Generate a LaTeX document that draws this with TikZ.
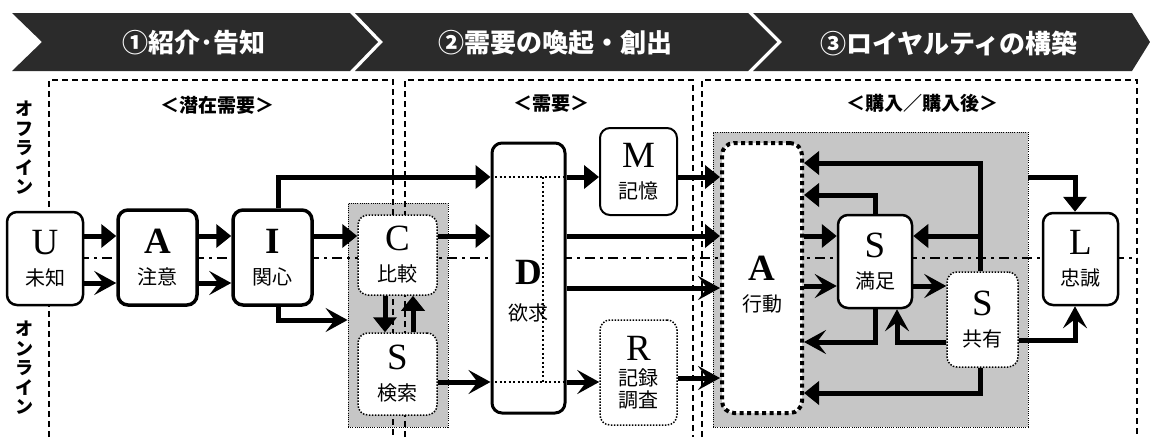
\documentclass[tikz,border=0pt]{standalone}
\usepackage{fontspec}
\setmainfont{Liberation Serif}
\newfontfamily\cjk{Noto Sans CJK JP}
\usetikzlibrary{arrows.meta}
\definecolor{bannerc}{RGB}{43,43,43}
\definecolor{grayfill}{RGB}{198,198,198}
\newcommand\BigL[1]{{\rmfamily\fontsize{37}{37}\selectfont #1}}
\newcommand\Lab[2]{\BigL{#1}\\[7pt]#2}
\begin{document}
\begin{tikzpicture}[x=1pt,y=-1pt,
  box/.style={draw, fill=white, rounded corners=10pt, align=center, inner sep=0pt,
    font=\cjk\fontsize{20}{24}\selectfont},
  solidb/.style={box, line width=3pt},
  thinb/.style={box, line width=2pt},
  dotb/.style={box, line width=1.5pt, dash pattern=on 1.5pt off 1.5pt},
  bigdotb/.style={box, line width=4pt, dash pattern=on 4pt off 3.5pt, rounded corners=12pt},
  lbl/.style={align=center, inner sep=0pt, font=\cjk\fontsize{20}{24}\selectfont},
  grayreg/.style={fill=grayfill, draw, line width=0.8pt, dash pattern=on 1pt off 1.2pt, inner sep=0pt},
  dbox/.style={line width=1.3pt, dash pattern=on 6pt off 4pt},
  dashdot/.style={line width=1.5pt, dash pattern=on 10pt off 5pt on 3pt off 5pt},
  innerdot/.style={line width=2pt, dash pattern=on 2pt off 2.5pt},
  off/.style={line width=5pt, -{Triangle[length=15pt,width=23pt]}},
  on/.style={line width=5pt, -{Stealth[length=22pt,width=24pt,inset=9pt]}},
  bantext/.style={text=white, font=\cjk\bfseries\fontsize{26}{28}\selectfont},
  sectext/.style={font=\cjk\bfseries\fontsize{19}{22}\selectfont},
  vtext/.style={align=center, font=\cjk\bfseries\fontsize{18}{19.5}\selectfont, inner sep=0pt}
]
\useasboundingbox (0,0) rectangle (1150,437);

% banner
\fill[bannerc] (12,13) -- (350,13) -- (378,42) -- (350,71) -- (12,71) -- (42,42) -- cycle;
\fill[bannerc] (355,13) -- (748,13) -- (777,42) -- (748,71) -- (355,71) -- (383,42) -- cycle;
\fill[bannerc] (753,13) -- (1132,13) -- (1150,42) -- (1132,71) -- (753,71) -- (782,42) -- cycle;
\node[bantext] (b1) at (194,43) {①紹介･告知};
\node[bantext] (b2) at (555,43) {②需要の喚起・創出};
\node[bantext] (b3) at (949,43) {③ロイヤルティの構築};

% gray regions
\node[grayreg, minimum width=100pt, minimum height=224pt] (g1) at (398,315) {};
\node[grayreg, minimum width=315pt, minimum height=295pt] (g3) at (870.5,279.5) {};

% dashed boxes
\draw[dbox] (49,437) -- (49,80) -- (393,80) -- (393,437);
\draw[dbox] (405,437) -- (405,80) -- (693,80) -- (693,437);
\draw[dbox] (702,437) -- (702,80) -- (1137,80) -- (1137,437);

% dash-dot line
\draw[dashdot] (10,258) -- (1137,258);

% section labels
\node[sectext] (s1) at (217,105) {＜潜在需要＞};
\node[sectext] (s2) at (551,104) {＜需要＞};
\node[sectext] (s3) at (922,103) {＜購入／購入後＞};

% vertical labels
\node[vtext] (vo) at (25,148) {オ\\フ\\ラ\\イ\\ン};
\node[vtext] (vn) at (25,368) {オ\\ン\\ラ\\イ\\ン};

% nodes
\node[thinb, line width=2.5pt, minimum width=76pt, minimum height=93pt] (U) at (45,258.5) {\Lab{U}{未知}};
\node[solidb, line width=3.5pt, minimum width=79pt, minimum height=95pt] (A1) at (157.5,257.5) {\Lab{\textbf{A}}{注意}};
\node[solidb, line width=3.5pt, minimum width=79pt, minimum height=95pt] (I) at (272.5,257.5) {\Lab{\textbf{I}}{関心}};
\node[dotb, minimum width=79pt, minimum height=80pt] (C) at (397.5,255) {\Lab{C}{比較}};
\node[dotb, minimum width=79pt, minimum height=82pt] (S1) at (397.5,374) {\Lab{S}{検索}};
\node[solidb, minimum width=73pt, minimum height=270pt] (D) at (528.5,278) {};
\node[thinb, minimum width=77pt, minimum height=87pt] (M) at (638.5,171.5) {\Lab{M}{記憶}};
\node[dotb, minimum width=77pt, minimum height=105pt] (R) at (638.5,372.5) {\BigL{R}\\[1pt]記録\\[-2pt]調査};
\node[bigdotb, minimum width=80pt, minimum height=270pt] (Act) at (762,278) {};
\node[thinb, line width=2.5pt, minimum width=74pt, minimum height=93pt] (Sm) at (875,261.5) {\Lab{S}{満足}};
\node[dotb, minimum width=71pt, minimum height=95pt] (Ss) at (982.5,319.5) {\Lab{S}{共有}};
\node[thinb, line width=2.5pt, minimum width=75pt, minimum height=92pt] (L) at (1080.5,259) {\Lab{L}{忠誠}};

% row coordinates
\coordinate (rt) at (0,177);
\coordinate (ra) at (0,236);
\coordinate (rb) at (0,283);
\coordinate (rd) at (0,288);
\coordinate (rsm) at (0,286);
\coordinate (ri) at (0,320);
\coordinate (rs) at (0,382);
\coordinate (rr) at (0,378);
\coordinate (r163) at (0,163);
\coordinate (r195) at (0,195);
\coordinate (r342) at (0,342);
\coordinate (r340) at (0,340);
\coordinate (r393) at (0,393);
\coordinate (ix) at (278,0);
\coordinate (cx1) at (385,0);
\coordinate (cx2) at (413,0);
\coordinate (dx) at (543,0);
\coordinate (smx) at (875,0);
\coordinate (ssx) at (980,0);
\coordinate (jx) at (897,0);
\coordinate (lx) at (1075,0);

% D inner dotted lines and labels
\draw[innerdot] (D.west |- rt) -- (D.east |- rt);
\draw[innerdot] (D.west |- rs) -- (D.east |- rs);
\draw[innerdot] (dx |- rt) -- (dx |- rs);
\node[lbl] (Dl) at ([yshift=-13pt]D.center) {\BigL{\textbf{D}}\\[12pt]欲求};
\node[lbl] (Al) at ([yshift=-7pt]Act.center) {\Lab{\textbf{A}}{行動}};

% arrows
\draw[off] (U.east |- ra) -- (A1.west |- ra);
\draw[on] (U.east |- rb) -- (A1.west |- rb);
\draw[off] (A1.east |- ra) -- (I.west |- ra);
\draw[on] (A1.east |- rb) -- (I.west |- rb);
\draw[off] (I.east |- ra) -- (C.west |- ra);
\draw[off] (I.north -| ix) |- (D.west |- rt);
\draw[on] (I.south -| ix) |- (g1.west |- ri);
\draw[off] (C.south -| cx1) -- (S1.north -| cx1);
\draw[off] (S1.north -| cx2) -- (C.south -| cx2);
\draw[off] (C.east |- ra) -- (D.west |- ra);
\draw[on] (S1.east |- rs) -- (D.west |- rs);
\draw[off] (D.east |- rt) -- (M.west |- rt);
\draw[off] (D.east |- ra) -- (Act.west |- ra);
\draw[on] (D.east |- rd) -- (Act.west |- rd);
\draw[on] (D.east |- rs) -- (R.west |- rs);
\draw[off] (M.east |- rt) -- (Act.west |- rt);
\draw[on] (R.east |- rr) -- (Act.west |- rr);
\draw[off] (Act.east |- ra) -- (Sm.west |- ra);
\draw[on] (Act.east |- rsm) -- (Sm.west |- rsm);
\draw[on] (Sm.east |- rsm) -- (Ss.west |- rsm);
\draw[off] (Sm.north -| smx) |- (Act.east |- r195);
\draw[off] (Ss.north -| ssx) |- (Act.east |- r163);
\draw[off] (ssx |- ra) -- (Sm.east |- ra);
\draw[on] (Sm.south -| smx) |- (Act.east |- r342);
\draw[on] (Ss.west |- r342) -| (Sm.south -| jx);
\draw[off] (Ss.south -| ssx) |- (Act.east |- r393);
\draw[off] (g3.east |- rt) -| (L.north -| lx);
\draw[on] (Ss.east |- r340) -| (L.south -| lx);
\end{tikzpicture}
\end{document}
